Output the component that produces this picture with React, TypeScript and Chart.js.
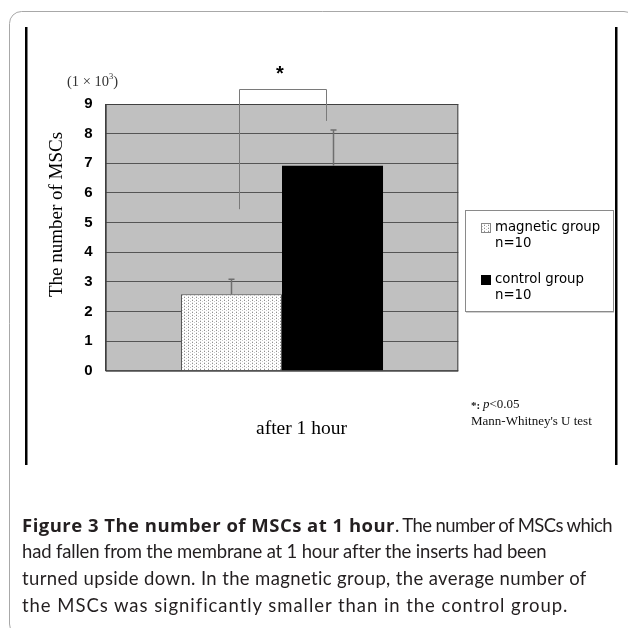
import React, { useEffect, useLayoutEffect, useRef } from "react";
import { Chart, registerables } from "chart.js";

Chart.register(...registerables);

// ---- data ----
const categories = ["after 1 hour"];
const groupLabels = ["magnetic group", "control group"];
const groupCounts = ["n=10", "n=10"];
const magneticValues = [2.58];
const controlValues = [6.92];
const magneticErrors = [0.51];
const controlErrors = [1.2];
const yMin = 0;
const yMax = 9;
const yStep = 1;
const yTitle = "The number of MSCs";
const unitLabel = "(1 × 10";
const unitExp = "3";
// significance bracket (in data units)
const bracketTop = 9.5;
const bracketLeftBottom = 5.45;
const bracketRightBottom = 8.43;
const sigMark = "*";
const footnoteStat = "p";
const footnoteThreshold = "<0.05";
const footnoteTest = "Mann-Whitney's U test";

const captionBold = "Figure 3 The number of MSCs at 1 hour";
const captionLines = [
  ". The number of MSCs which",
  "had fallen from the membrane at 1 hour after the inserts had been",
  "turned upside down. In the magnetic group, the average number of",
  "the MSCs was significantly smaller than in the control group.",
];
const captionWidths = [373, 217, 524, 565, 546];

function makeStipple(): CanvasPattern | string {
  const c = document.createElement("canvas");
  c.width = 4;
  c.height = 3;
  const g = c.getContext("2d");
  if (!g) return "#eee";
  g.fillStyle = "#ffffff";
  g.fillRect(0, 0, 4, 3);
  g.fillStyle = "#8e8e8e";
  g.fillRect(0, 0, 1, 1);
  g.fillStyle = "#c8c8c8";
  g.fillRect(2, 1, 1, 1);
  g.fillStyle = "#dcdcdc";
  g.fillRect(0, 2, 1, 1);
  const p = g.createPattern(c, "repeat");
  return p || "#eee";
}

const decor = {
  id: "decor",
  beforeDraw(chart: any) {
    const { ctx, chartArea: a } = chart;
    ctx.save();
    ctx.fillStyle = "#ffffff";
    ctx.fillRect(0, 0, chart.width, chart.height);
    ctx.fillStyle = "#c0c0c0";
    ctx.fillRect(a.left, a.top, a.right - a.left, a.bottom - a.top);
    ctx.restore();
  },
  afterDatasetsDraw(chart: any) {
    const { ctx, chartArea: a } = chart;
    const ys = chart.scales.y;
    ctx.save();
    // plot frame
    ctx.strokeStyle = "#404040";
    ctx.lineWidth = 1;
    ctx.strokeRect(a.left + 0.5, a.top + 0.5, a.right - a.left - 1, a.bottom - a.top);
    // error bars
    const errs = [magneticErrors, controlErrors];
    const vals = [magneticValues, controlValues];
    ctx.strokeStyle = "#6e6e6e";
    ctx.lineWidth = 1.5;
    for (let d = 0; d < 2; d++) {
      const meta = chart.getDatasetMeta(d);
      meta.data.forEach((bar: any, i: number) => {
        const x = Math.round(bar.x) + 0.5;
        const y0 = ys.getPixelForValue(vals[d][i]);
        const y1 = ys.getPixelForValue(vals[d][i] + errs[d][i]);
        ctx.beginPath();
        ctx.moveTo(x, y0);
        ctx.lineTo(x, y1);
        ctx.moveTo(x - 3, y1);
        ctx.lineTo(x + 3, y1);
        ctx.stroke();
      });
    }
    // bracket
    const b0: any = chart.getDatasetMeta(0).data[0];
    const b1: any = chart.getDatasetMeta(1).data[0];
    const xl = Math.round(b0.x + b0.width * 0.074) + 0.5;
    const xr = Math.round(b1.x - b1.width * 0.063) + 0.5;
    const yt = Math.round(ys.getPixelForValue(bracketTop)) + 0.5;
    ctx.strokeStyle = "#7a7a7a";
    ctx.lineWidth = 1;
    ctx.beginPath();
    ctx.moveTo(xl, ys.getPixelForValue(bracketLeftBottom));
    ctx.lineTo(xl, yt);
    ctx.lineTo(xr, yt);
    ctx.lineTo(xr, ys.getPixelForValue(bracketRightBottom));
    ctx.stroke();
    // star
    ctx.fillStyle = "#000";
    ctx.font = "bold 20px 'Liberation Sans'";
    ctx.textAlign = "center";
    ctx.textBaseline = "alphabetic";
    ctx.fillText(sigMark, (xl + xr) / 2 - 3, yt - 10);
    ctx.restore();
  },
  afterDraw(chart: any) {
    const { ctx } = chart;
    ctx.save();
    // outer rounded frame
    ctx.strokeStyle = "#a8a8a8";
    ctx.lineWidth = 1;
    const r = 12;
    const L = 9.5, T = 11.5, R = 636, B = 636;
    ctx.beginPath();
    ctx.moveTo(L + r, T);
    ctx.lineTo(R - r, T);
    ctx.arcTo(R, T, R, T + r, r);
    ctx.lineTo(R, B - r);
    ctx.arcTo(R, B, R - r, B, r);
    ctx.lineTo(L + r, B);
    ctx.arcTo(L, B, L, B - r, r);
    ctx.lineTo(L, T + r);
    ctx.arcTo(L, T, L + r, T, r);
    ctx.stroke();
    // black side rules
    ctx.fillStyle = "#000";
    ctx.fillRect(25, 27, 2.5, 438);
    ctx.fillRect(615, 27, 2.5, 438);

    // y title
    ctx.fillStyle = "#000";
    ctx.font = "19px 'Liberation Serif'";
    ctx.textAlign = "center";
    ctx.textBaseline = "alphabetic";
    ctx.translate(62, 214.5);
    ctx.rotate(-Math.PI / 2);
    ctx.fillText(yTitle, 0, 0);
    ctx.setTransform(1, 0, 0, 1, 0, 0);

    // unit label
    ctx.fillStyle = "#333";
    ctx.textAlign = "left";
    ctx.textBaseline = "middle";
    ctx.font = "14.5px 'Liberation Serif'";
    let ux = 67;
    ctx.fillText(unitLabel, ux, 82);
    ux += ctx.measureText(unitLabel).width;
    ctx.font = "8.5px 'Liberation Serif'";
    ctx.fillText(unitExp, ux, 76.5);
    ux += ctx.measureText(unitExp).width;
    ctx.font = "14.5px 'Liberation Serif'";
    ctx.fillText(")", ux, 82);

    // legend box
    ctx.fillStyle = "#fff";
    ctx.fillRect(465.5, 210.5, 148, 101);
    ctx.strokeStyle = "#8a8a8a";
    ctx.lineWidth = 1;
    ctx.strokeRect(465.5, 210.5, 148, 101);
    ctx.strokeStyle = "#d0d0d0";
    ctx.beginPath();
    ctx.moveTo(466, 312.5);
    ctx.lineTo(614, 312.5);
    ctx.stroke();
    const ds = chart.data.datasets;
    const rows = [223, 275];
    for (let i = 0; i < 2; i++) {
      const y = rows[i];
      ctx.fillStyle = ds[i].backgroundColor;
      ctx.fillRect(481, y, 10, 10);
      ctx.strokeStyle = i === 0 ? "#888" : "#000";
      ctx.strokeRect(481.5, y + 0.5, 9, 9);
      ctx.fillStyle = "#000";
      ctx.font = "13.3px 'DejaVu Sans'";
      ctx.textAlign = "left";
      ctx.textBaseline = "middle";
      ctx.fillText(groupLabels[i], 495, y + 5);
      ctx.fillText(groupCounts[i], 495, y + 21);
    }

    // footnote
    ctx.fillStyle = "#111";
    ctx.textBaseline = "middle";
    let fx = 471;
    ctx.font = "bold 11px 'Liberation Serif'";
    ctx.fillText(sigMark + ":", fx, 406);
    fx += ctx.measureText(sigMark + ": ").width;
    ctx.font = "italic 13px 'Liberation Serif'";
    ctx.fillText(footnoteStat, fx, 405);
    fx += ctx.measureText(footnoteStat).width;
    ctx.font = "13px 'Liberation Serif'";
    ctx.fillText(footnoteThreshold, fx, 405);
    ctx.fillText(footnoteTest, 471, 422);
    ctx.restore();
  },
};

function BarChart() {
  const ref = useRef<HTMLCanvasElement | null>(null);
  useEffect(() => {
    if (!ref.current) return;
    const stipple = makeStipple();
    const chart = new Chart(ref.current, {
      type: "bar",
      data: {
        labels: categories,
        datasets: [
          {
            label: groupLabels[0],
            data: magneticValues,
            backgroundColor: stipple as any,
            borderColor: "#555",
            borderWidth: 1,
            borderSkipped: "bottom",
          },
          {
            label: groupLabels[1],
            data: controlValues,
            backgroundColor: "#000",
            borderWidth: 0,
          },
        ],
      },
      options: {
        responsive: false,
        animation: false,
        events: [],
        layout: { padding: { left: 0, top: 104, right: 169.7, bottom: 0 } },
        datasets: { bar: { categoryPercentage: 0.573, barPercentage: 1 } },
        plugins: { legend: { display: false }, tooltip: { enabled: false } },
        scales: {
          x: {
            grid: { display: false },
            border: { display: false },
            ticks: {
              color: "#000",
              font: { family: "'Liberation Serif'", size: 19.5 },
              padding: 38,
              labelOffset: 19.5,
              maxRotation: 0,
            },
            afterFit: (s: any) => {
              s.height = 257.3;
            },
          },
          y: {
            min: yMin,
            max: yMax,
            ticks: {
              stepSize: yStep,
              color: "#000",
              font: { family: "'Liberation Sans'", size: 15, weight: "bold" },
              padding: 13,
            },
            grid: { color: "#555", lineWidth: 1, drawTicks: false },
            border: { color: "#404040", width: 1 },
            afterFit: (s: any) => {
              s.width = 105.7;
            },
          },
        },
      },
      plugins: [decor],
    });
    return () => chart.destroy();
  }, []);
  return <canvas ref={ref} width={628} height={628} style={{ display: "block" }} />;
}

function Caption() {
  const refs = useRef<(HTMLSpanElement | null)[]>([]);
  useLayoutEffect(() => {
    refs.current.forEach((el, i) => {
      if (!el) return;
      el.style.letterSpacing = "0px";
      const w = el.getBoundingClientRect().width;
      const n = (el.textContent || "").length;
      if (n > 0) el.style.letterSpacing = (captionWidths[i] - w) / n + "px";
    });
  }, []);
  const lineStyle: React.CSSProperties = { whiteSpace: "nowrap", height: 27, lineHeight: "27px" };
  const pieces = [captionBold, ...captionLines];
  return (
    <div
      style={{
        position: "absolute",
        left: 22,
        top: 511,
        fontFamily: "Lato, 'Open Sans', sans-serif",
        fontSize: 18.5,
        color: "#231f20",
      }}
    >
      <div style={lineStyle}>
        <span
          ref={(e) => { refs.current[0] = e; }}
          style={{ fontFamily: "'Open Sans', Lato, sans-serif", fontWeight: 700, fontSize: 18.5 }}
        >
          {pieces[0]}
        </span>
        <span ref={(e) => { refs.current[1] = e; }}>{pieces[1]}</span>
      </div>
      {[2, 3, 4].map((k) => (
        <div key={k} style={lineStyle}>
          <span ref={(e) => { refs.current[k] = e; }}>{pieces[k]}</span>
        </div>
      ))}
    </div>
  );
}

export default function App() {
  return (
    <div style={{ position: "absolute", left: 0, top: 0, width: 628, height: 628, overflow: "hidden", background: "#fff" }}>
      <BarChart />
      <Caption />
    </div>
  );
}
